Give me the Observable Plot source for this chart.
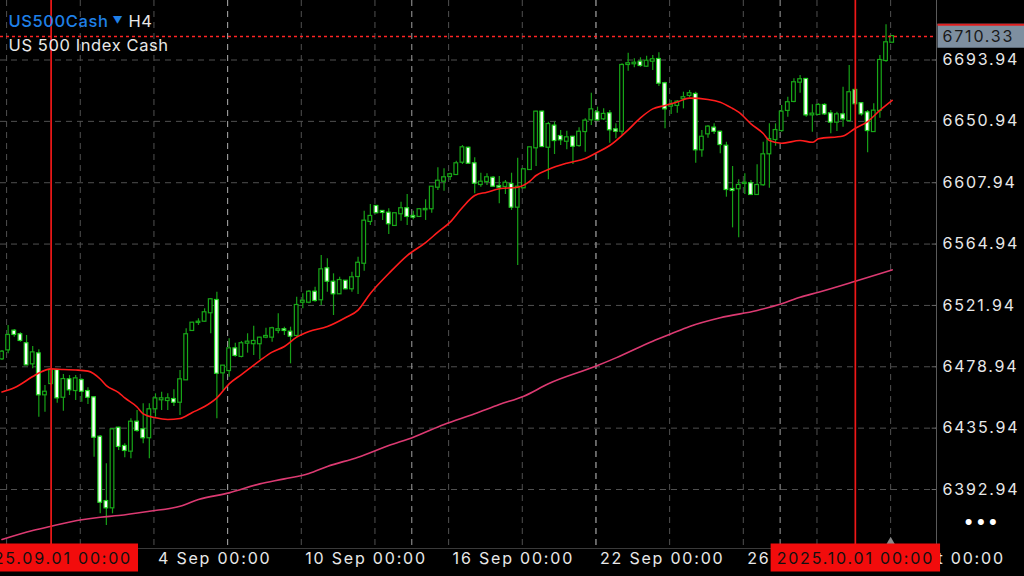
<!DOCTYPE html>
<html><head><meta charset="utf-8">
<script src="https://cdn.jsdelivr.net/npm/d3@7"></script>
<script src="https://cdn.jsdelivr.net/npm/@observablehq/plot@0.6"></script>
<style>
html,body{margin:0;padding:0;background:#000;overflow:hidden}
#chart{width:1024px;height:576px}
</style></head><body><div id="chart"></div>
<script>
// H4 bars of US500Cash, bar index 0..145 (2025-08-29 .. 2025-10-02)
const opens = [6484.5,6490.8,6503.9,6501.4,6495.1,6481.0,6488.0,6459.3,6467.2,6476.3,
6457.6,6469.8,6462.3,6469.3,6461.6,6457.2,6429.6,6384.5,6380.1,6435.9,
6423.1,6419.8,6440.1,6434.8,6429.2,6449.5,6455.8,6455.3,6456.0,6454.1,
6469.8,6504.4,6510.0,6510.9,6516.8,6525.4,6474.7,6476.3,6491.5,6486.2,
6495.5,6495.1,6495.1,6499.7,6499.7,6504.5,6504.9,6503.2,6500.9,6524.2,
6524.2,6531.2,6525.9,6547.6,6538.2,6530.1,6538.9,6533.6,6542.2,6551.5,
6580.8,6591.3,6587.8,6586.6,6578.0,6586.2,6589.7,6584.3,6584.3,6589.0,
6589.7,6604.8,6609.0,6612.3,6613.7,6622.3,6632.1,6621.2,6606.7,6608.8,
6611.1,6605.3,6605.3,6606.7,6590.8,6604.4,6617.2,6632.4,6657.4,6632.8,
6647.6,6640.3,6637.0,6639.8,6634.0,6643.8,6652.0,6656.9,6652.7,6656.2,
6645.0,6644.0,6690.8,6691.3,6692.4,6689.6,6693.1,6694.3,6677.3,6661.6,
6662.1,6666.8,6669.1,6669.8,6631.0,6642.2,6646.2,6643.3,6633.5,6603.2,
6603.7,6607.4,6607.2,6599.7,6606.5,6628.2,6638.2,6644.5,6658.6,6664.9,
6678.4,6680.3,6655.5,6655.8,6662.1,6656.2,6650.4,6655.5,6651.5,6672.6,
6663.3,6656.9,6643.8,6658.6,6693.6,6706.4];
const highs = [6490.4,6507.9,6505.1,6502.8,6500.9,6493.2,6490.8,6465.8,6477.7,6476.8,
6473.5,6472.8,6472.8,6470.5,6464.2,6458.1,6430.8,6411.0,6435.5,6436.6,
6425.0,6442.5,6448.3,6453.0,6453.0,6460.0,6461.1,6460.0,6462.8,6476.3,
6505.6,6510.2,6512.6,6519.6,6526.6,6531.2,6479.8,6498.6,6495.5,6496.7,
6502.1,6507.4,6499.7,6506.0,6506.7,6516.1,6506.7,6506.7,6527.7,6530.1,
6532.4,6534.7,6556.9,6554.6,6544.1,6541.7,6539.4,6545.2,6555.7,6588.0,
6592.7,6592.0,6588.5,6589.7,6586.6,6594.3,6599.7,6588.0,6589.7,6596.0,
6605.3,6618.4,6617.7,6614.6,6623.0,6634.0,6632.8,6625.4,6614.6,6614.2,
6612.3,6612.3,6609.5,6614.6,6625.1,6617.7,6632.8,6658.1,6658.1,6650.4,
6650.4,6644.5,6644.0,6640.3,6646.4,6652.7,6670.7,6660.9,6659.7,6658.6,
6649.2,6691.3,6698.7,6694.8,6695.5,6696.6,6697.1,6699.0,6678.4,6665.6,
6665.6,6671.4,6672.6,6671.4,6644.5,6648.0,6649.2,6644.0,6636.3,6619.3,
6610.0,6614.2,6609.5,6620.5,6636.3,6649.2,6649.2,6662.1,6667.9,6680.8,
6683.1,6680.8,6662.5,6663.3,6663.3,6658.6,6657.4,6674.9,6690.1,6674.0,
6664.0,6658.6,6663.3,6697.1,6718.6,6711.0];
const lows = [6483.3,6488.0,6499.7,6496.2,6479.8,6477.5,6443.6,6447.1,6465.8,6453.4,
6447.8,6458.8,6455.3,6454.1,6452.5,6415.6,6375.9,6367.7,6375.9,6420.3,
6415.2,6414.5,6433.1,6425.0,6414.5,6443.6,6448.3,6448.3,6451.1,6444.8,
6469.3,6503.9,6507.9,6510.2,6502.1,6442.5,6462.3,6471.6,6485.7,6485.2,
6488.5,6486.9,6483.8,6498.6,6496.2,6502.1,6500.9,6481.0,6499.7,6519.6,
6523.1,6524.2,6521.9,6531.2,6514.9,6529.6,6532.9,6531.2,6529.6,6545.9,
6578.0,6586.2,6581.5,6571.7,6577.3,6581.0,6578.0,6582.0,6583.8,6581.5,
6586.6,6602.5,6602.0,6609.5,6613.0,6620.7,6621.2,6600.2,6604.8,6606.0,
6604.8,6593.2,6599.7,6588.5,6549.9,6603.7,6616.5,6619.3,6632.8,6610.0,
6627.7,6634.0,6631.0,6620.7,6632.8,6629.3,6648.0,6651.1,6651.5,6635.6,
6638.7,6641.0,6686.1,6688.5,6688.9,6688.9,6686.6,6675.4,6645.7,6655.8,
6656.7,6659.7,6667.5,6621.6,6625.8,6639.1,6641.7,6628.2,6597.8,6576.3,
6569.3,6599.7,6599.0,6599.0,6605.5,6604.1,6633.5,6643.3,6653.9,6664.0,
6670.7,6653.9,6643.3,6655.1,6655.1,6642.2,6643.8,6646.9,6650.4,6662.1,
6654.6,6628.9,6643.3,6653.2,6692.4,6706.4];
const closes = [6489.2,6500.9,6501.6,6497.4,6480.3,6488.7,6459.3,6461.1,6476.3,6457.2,
6470.0,6462.8,6470.5,6461.8,6457.6,6429.6,6384.0,6380.1,6434.8,6423.1,
6420.3,6440.1,6434.3,6429.2,6448.8,6456.5,6456.5,6456.5,6454.1,6469.8,
6501.4,6509.5,6510.2,6516.8,6525.9,6474.4,6479.4,6491.5,6486.9,6495.1,
6496.2,6496.7,6499.0,6500.2,6505.6,6504.9,6504.4,6500.4,6521.9,6524.9,
6531.2,6525.4,6546.9,6538.9,6530.1,6539.4,6533.6,6541.3,6551.5,6581.0,
6584.3,6586.9,6587.1,6579.2,6586.2,6589.7,6584.3,6583.8,6589.0,6589.2,
6604.8,6609.0,6611.4,6613.5,6621.2,6632.4,6621.6,6607.6,6608.3,6611.4,
6605.5,6604.8,6607.6,6590.8,6604.8,6617.0,6632.4,6657.4,6633.3,6648.7,
6637.5,6638.0,6639.4,6633.5,6643.3,6651.1,6659.0,6652.0,6655.8,6645.0,
6644.0,6690.1,6691.3,6691.7,6690.1,6693.1,6694.1,6677.7,6659.7,6662.1,
6664.4,6667.5,6670.3,6631.0,6639.8,6646.9,6644.0,6634.7,6603.2,6602.5,
6606.0,6607.6,6599.7,6606.0,6627.5,6638.2,6644.5,6657.4,6664.0,6678.0,
6680.1,6655.5,6656.0,6662.1,6656.2,6650.4,6655.5,6652.7,6671.0,6663.3,
6656.2,6644.5,6658.1,6693.6,6706.0,6710.33];

// fast moving average (red), read at bar indices
const maFastBars = [0,2,5,6,8,10,12,14,16,17,19,20,22,23,25,27,29,31,33,35,37,39,42,44,46,48,50,53,56,58,60,63,66,69,71,73,75,77,79,81,84,86,87,89,92,95,97,99,102,104,106,108,110,112,115,117,119,120,122,124,125,127,130,132,133,137,139,141,143,145];
const maFastValues = [6461.3,6464.2,6472.1,6474.6,6477.5,6477.0,6476.7,6475.9,6470.4,6465.8,6460.9,6457.1,6450.8,6446.0,6443.2,6442.0,6442.7,6446.9,6451.1,6457.2,6467.0,6473.5,6483.3,6489.2,6493.2,6499.7,6503.7,6507.2,6513.5,6518.7,6530.3,6544.3,6556.9,6566.0,6573.3,6580.3,6590.6,6599.0,6601.3,6603.7,6604.8,6609.1,6613.0,6617.2,6621.6,6624.9,6629.3,6634.0,6645.0,6653.4,6659.7,6662.1,6664.5,6667.2,6666.3,6664.4,6660.0,6657.4,6649.2,6642.4,6637.5,6635.6,6637.5,6636.3,6638.7,6640.7,6646.1,6650.8,6658.6,6665.6];
// slow moving average (pink)
const maSlowBars = [0,5,8,13,16,19,24,29,32,37,42,46,50,53,58,63,67,72,77,81,85,89,97,100,106,109,112,117,123,127,130,133,139,145];
const maSlowValues = [6357.9,6364.2,6367.2,6371.7,6373.5,6374.7,6377.7,6381.2,6385.9,6390.6,6396.9,6400.4,6404.2,6409.1,6415.6,6423.8,6429.6,6438.5,6446.0,6452.5,6458.3,6467.0,6479.8,6485.2,6496.9,6502.1,6507.2,6513.3,6518.4,6523.1,6527.7,6531.2,6538.9,6546.9];

const priceTicks = [6392.94,6435.94,6478.94,6521.94,6564.94,6607.94,6650.94,6693.94];
const gridBars = [1,13,25,37,49,61,73,85,97,109,121,133,145];
const weekBars = [37,67,97,127];
const monthBars = [8,139];
const monthLabels = ["2025.09.01 00:00","2025.10.01 00:00"];
const dateBars = [25,49,73,97,121,145];
const dateLabels = ["4 Sep 00:00","10 Sep 00:00","16 Sep 00:00","22 Sep 00:00","26 Sep 00:00","2 Oct 00:00"];
const lastPrice = 6710.33;

const bars = opens.map((o, i) => ({i, o, h: highs[i], l: lows[i], c: closes[i], up: closes[i] >= o}));
const maFast = maFastBars.map((b, k) => ({b, v: maFastValues[k]}));
const maSlow = maSlowBars.map((b, k) => ({b, v: maSlowValues[k]}));
const dates = dateBars.map((b, k) => ({b, t: dateLabels[k]}));
const months = monthBars.map((b, k) => ({b, t: monthLabels[k]}));

const xDomain = [-0.244, 152.22];
const yDomain = [6351.6, 6735.64];
const FONT = "Inter, 'Liberation Sans', sans-serif";

const svg = Plot.plot({
  width: 1024, height: 576,
  marginLeft: 0, marginRight: 88, marginTop: 0, marginBottom: 28,
  style: {background: "#000", fontFamily: FONT, overflow: "hidden"},
  x: {domain: xDomain, axis: null},
  y: {domain: yDomain, axis: null},
  marks: [
    Plot.ruleY(priceTicks, {stroke: "#505050", strokeDasharray: "6,5"}),
    Plot.ruleX(gridBars, {x: d => d - 0.25, stroke: "#505050", strokeDasharray: "6,5"}),
    Plot.ruleX(weekBars, {x: d => d - 0.25, stroke: "#a0a0a0", strokeDasharray: "6,5"}),
    // candles
    Plot.ruleX(bars, {x: "i", y1: "l", y2: "h", stroke: "#17a017", strokeWidth: 1.2}),
    Plot.rect(bars, {x1: d => d.i - 0.3, x2: d => d.i + 0.3, y1: "o", y2: "c",
      fill: d => d.up ? "#000000" : "#ffffff", stroke: d => d.up ? "#18a818" : "#22d422",
      strokeWidth: 1.2, insetTop: -0.5, insetBottom: -0.5}),
    // moving averages
    Plot.line(maSlow, {x: "b", y: "v", stroke: "#dc3a72", strokeWidth: 1.6, curve: "monotone-x"}),
    Plot.line(maFast, {x: "b", y: "v", stroke: "#ff1c1c", strokeWidth: 1.6, curve: "monotone-x"}),
    // month separators
    Plot.ruleX(monthBars, {stroke: "#f01818", strokeWidth: 1.7}),
    // current price
    Plot.ruleY([lastPrice], {stroke: "#ff2424", strokeDasharray: "3,3", strokeWidth: 1.5}),
    // frame lines
    Plot.ruleX([xDomain[1]], {stroke: "#5a5a5a"}),
    Plot.ruleY([yDomain[0]], {stroke: "#3a3a3a"}),
    Plot.ruleY(priceTicks, {x1: xDomain[1] - 0.7, x2: xDomain[1], stroke: "#6a6a6a"}),
    Plot.dot([bars.length - 1], {x: d => d - 0.25, frameAnchor: "bottom", symbol: "triangle", r: 5, fill: "#8a8a8a", stroke: "none", dy: -4}),
    // price labels
    Plot.text(priceTicks, {y: d => d, frameAnchor: "right", dx: 6, textAnchor: "start", text: d => d.toFixed(2), fill: "#e8e8e8", fontSize: 16, ariaDescription: "axis"}),
    Plot.text([lastPrice], {y: d => d, frameAnchor: "right", dx: 6, textAnchor: "start", text: d => d.toFixed(2), fill: "#1a1a1a", fontSize: 16, ariaDescription: "pricebox"}),
    // time labels
    Plot.text(dates, {x: d => d.b - 0.25, frameAnchor: "bottom", dy: 15, dx: 4, textAnchor: "start", text: "t", fill: "#e8e8e8", fontSize: 16, ariaDescription: "axis"}),
    Plot.text(months, {x: "b", frameAnchor: "bottom", dy: 15, textAnchor: "middle", text: "t", fill: "#111", fontSize: 16, ariaDescription: "monthbox"}),
    // title
    Plot.text(["US500Cash"], {frameAnchor: "top-left", dx: 8, dy: 15, textAnchor: "start", fill: "#1f80e8", fontSize: 16.5, fontWeight: 500, ariaDescription: "title"}),
    Plot.text(["▼"], {frameAnchor: "top-left", dx: 112, dy: 16.5, textAnchor: "start", fill: "#1f80e8", fontSize: 10}),
    Plot.text(["H4"], {frameAnchor: "top-left", dx: 128, dy: 15, textAnchor: "start", fill: "#e8e8e8", fontSize: 16.5, ariaDescription: "title"}),
    Plot.text(["US 500 Index Cash"], {frameAnchor: "top-left", dx: 8, dy: 39, textAnchor: "start", fill: "#e8e8e8", fontSize: 16.5, ariaDescription: "title"}),
    Plot.text(["•••"], {frameAnchor: "bottom-right", dx: 45, dy: -21, textAnchor: "middle", fill: "#ffffff", fontSize: 19, ariaDescription: "dots"})
  ]
});
document.getElementById("chart").append(svg);

const NS = "http://www.w3.org/2000/svg";
svg.querySelectorAll('g[aria-description="axis"], g[aria-description="pricebox"], g[aria-description="monthbox"]').forEach(g => g.setAttribute("letter-spacing", "1.8"));
svg.querySelectorAll('g[aria-description="title"]').forEach(g => g.setAttribute("letter-spacing", "0.6"));
svg.querySelectorAll('g[aria-description="dots"]').forEach(g => g.setAttribute("letter-spacing", "1.5"));

function boxBehind(sel, fill, padX, padY, extraRight, topLine) {
  svg.querySelectorAll(sel + " text").forEach(t => {
    const b = t.getBBox();
    const r = document.createElementNS(NS, "rect");
    r.setAttribute("x", b.x - padX);
    r.setAttribute("y", b.y - padY);
    r.setAttribute("width", b.width + 2 * padX + extraRight);
    r.setAttribute("height", b.height + 2 * padY);
    r.setAttribute("fill", fill);
    const tr = t.getAttribute("transform");
    if (tr) r.setAttribute("transform", tr);
    t.parentNode.insertBefore(r, t);
    if (topLine) {
      const l = document.createElementNS(NS, "rect");
      l.setAttribute("x", b.x - padX);
      l.setAttribute("y", b.y - padY);
      l.setAttribute("width", b.width + 2 * padX + extraRight);
      l.setAttribute("height", 2);
      l.setAttribute("fill", topLine);
      if (tr) l.setAttribute("transform", tr);
      t.parentNode.insertBefore(l, t);
    }
  });
}
boxBehind('g[aria-description="monthbox"]', "#f20c0c", 6, 4, 0, null);
boxBehind('g[aria-description="pricebox"]', "#7e8fa0", 5, 2, 30, "#e02020");
</script>
</body></html>
